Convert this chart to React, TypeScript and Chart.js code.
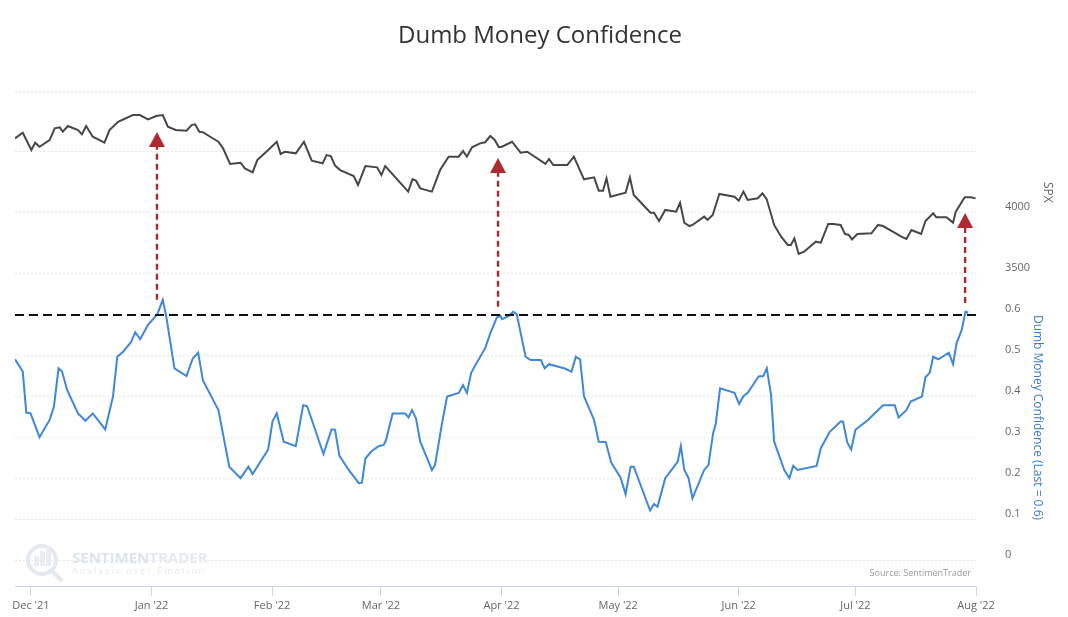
import React, { useEffect, useRef } from "react";
import { Chart, registerables } from "chart.js";

Chart.register(...registerables);

// ---- x axis: days since 1 Dec 2021 ----
const monthDays = [0, 31, 62, 90, 121, 151, 182, 212, 243];
const monthLabels = ["Dec '21", "Jan '22", "Feb '22", "Mar '22", "Apr '22", "May '22", "Jun '22", "Jul '22", "Aug '22"];

// ---- S&P 500 (top panel) ----
const spxDays = [
  -4.1, -2.1, 0.1, 1.1, 2.2, 4.8, 6.1, 7.4, 8.2, 9.5,
  12.1, 13.1, 14.2, 15.9, 18.9, 20.2, 22.4, 26.2, 28, 30.1,
  32.2, 33.9, 35.2, 37.2, 40, 41.3, 42.2, 43.3, 44.3, 46.5,
  48.2, 49.4, 51.2, 53.9, 55, 57, 58.2, 61, 63.2, 64.2,
  65.3, 68.1, 70.2, 72.2, 75, 76, 77.1, 78.2, 79.5, 83,
  84.1, 86, 89, 90.1, 91.1, 97, 98.1, 99, 100.1, 103.1,
  105.2, 107.4, 110, 111.1, 112.1, 113.4, 115.5, 116.8, 118.1, 119.2,
  120.3, 121.1, 123.7, 125.9, 127.6, 132.3, 133.2, 134.3, 137.9, 139.6,
  142.2, 144.8, 146, 147.1, 148, 149, 152.9, 154, 155, 159.3,
  160.2, 161.5, 163.1, 165.9, 166.9, 168, 169.3, 170.1, 173.1, 174,
  175.3, 177, 180.9, 182, 183.2, 184.3, 186.9, 188.1, 189.2, 191.1,
  192.9, 194.6, 195.4, 196.3, 197.4, 198.8, 201.8, 203.1, 205, 206.3,
  208.2, 209.3, 210.3, 211.1, 212.5, 216.1, 217.8, 219.1, 221.6, 223.8,
  225.1, 226.4, 228.9, 230, 232, 232.8, 235.4, 237.1, 237.8, 240.1,
  241.7, 242.9,
];
const spxValues = [
  4612, 4658, 4516, 4576, 4543, 4598, 4694, 4702, 4666, 4713,
  4680, 4645, 4713, 4625, 4576, 4680, 4748, 4803, 4803, 4768,
  4795, 4803, 4707, 4680, 4675, 4721, 4727, 4666, 4661, 4617,
  4584, 4530, 4402, 4412, 4366, 4333, 4434, 4516, 4584, 4484,
  4502, 4489, 4584, 4429, 4407, 4475, 4467, 4389, 4352, 4303,
  4230, 4385, 4374, 4311, 4385, 4175, 4276, 4265, 4202, 4175,
  4352, 4462, 4462, 4508, 4462, 4538, 4571, 4580, 4631, 4601,
  4540, 4543, 4584, 4494, 4502, 4402, 4443, 4393, 4393, 4462,
  4276, 4292, 4183, 4183, 4284, 4134, 4166, 4292, 4148, 4003,
  4003, 3935, 4025, 4011, 4084, 3920, 3893, 3902, 3970, 3943,
  3984, 4156, 4134, 4101, 4175, 4107, 4121, 4161, 4112, 3902,
  3806, 3738, 3738, 3792, 3664, 3683, 3765, 3757, 3910, 3910,
  3902, 3828, 3820, 3784, 3828, 3834, 3902, 3893, 3847, 3806,
  3787, 3861, 3828, 3934, 3997, 3965, 3965, 3921, 4011, 4129,
  4129, 4120,
];

// ---- Dumb Money Confidence (bottom panel) ----
const dmcDays = [
  -4.1, -2.1, -1.2, -0.1, 2.2, 4.8, 5.9, 7.1, 8, 9.3,
  12.1, 14, 15.9, 19.1, 21.1, 22.2, 23.7, 25.8, 26.8, 28.1,
  30.1, 32.5, 33.9, 34.8, 36.9, 40, 41.6, 43, 44.2, 48.2,
  51, 53.9, 55.9, 57, 61, 62.1, 63.2, 65, 68.1, 70,
  71, 75.2, 77.3, 78.2, 79.3, 81.7, 84.3, 85.1, 86, 87.5,
  89.4, 90.7, 91.3, 93, 96.2, 97.1, 98, 99, 100.1, 103.1,
  103.9, 105.7, 107, 110, 111.1, 112.1, 113.2, 114.3, 116.8, 118.1,
  119.8, 120.7, 121.1, 122.9, 124, 124.9, 127.2, 128.5, 131.1, 132.1,
  133.2, 137.1, 139, 140.1, 141.2, 142.2, 144.8, 146, 147.8, 149.2,
  151.6, 152.9, 154.2, 155, 159.2, 160.2, 161.1, 163.1, 165, 166.3,
  167.1, 168, 169.1, 170.1, 173.1, 174.2, 175.4, 176.1, 177.2, 180.9,
  182.1, 183.2, 184.3, 187.1, 188.3, 189.2, 190.3, 191.1, 193.7, 195,
  196, 197.1, 202, 203.1, 205.4, 208.2, 208.8, 209.9, 210.9, 212,
  215.2, 219.1, 222.1, 223.1, 225.1, 226.2, 229.1, 230, 231.1, 232,
  233.3, 236, 237.1, 238, 239.3, 240.3, 241,
];
const dmcValues = [
  0.492, 0.462, 0.362, 0.36, 0.302, 0.344, 0.376, 0.47, 0.462, 0.417,
  0.36, 0.342, 0.36, 0.321, 0.401, 0.498, 0.51, 0.535, 0.558, 0.541,
  0.576, 0.602, 0.637, 0.596, 0.47, 0.451, 0.494, 0.508, 0.441, 0.368,
  0.23, 0.202, 0.23, 0.212, 0.272, 0.34, 0.36, 0.291, 0.28, 0.38,
  0.378, 0.261, 0.321, 0.32, 0.257, 0.222, 0.19, 0.191, 0.25, 0.267,
  0.28, 0.283, 0.295, 0.36, 0.36, 0.35, 0.368, 0.348, 0.291, 0.222,
  0.234, 0.336, 0.401, 0.41, 0.429, 0.41, 0.459, 0.478, 0.519, 0.555,
  0.594, 0.598, 0.59, 0.598, 0.608, 0.602, 0.498, 0.49, 0.49, 0.47,
  0.48, 0.47, 0.462, 0.498, 0.492, 0.402, 0.344, 0.291, 0.29, 0.24,
  0.204, 0.163, 0.23, 0.23, 0.123, 0.139, 0.132, 0.202, 0.226, 0.242,
  0.28, 0.222, 0.202, 0.153, 0.222, 0.234, 0.311, 0.336, 0.421, 0.41,
  0.383, 0.402, 0.41, 0.45, 0.451, 0.47, 0.405, 0.291, 0.222, 0.202,
  0.232, 0.222, 0.232, 0.275, 0.315, 0.34, 0.34, 0.289, 0.272, 0.32,
  0.344, 0.38, 0.38, 0.35, 0.368, 0.389, 0.401, 0.448, 0.459, 0.498,
  0.492, 0.508, 0.48, 0.531, 0.563, 0.608, 0.606,
];

// ---- axis ticks ----
const spxGridTicks = [3500, 4000, 4500, 5000];
const spxLabelTicks = [3500, 4000];
const dmcTicks = [0, 0.1, 0.2, 0.3, 0.4, 0.5, 0.6];

// ---- annotations ----
const refLevel = 0.6;
const arrowDays = [32.4, 120.1, 240.2];
const arrowFromDmc = [0.637, 0.62, 0.629];
const arrowToSpx = [4664, 4451, 4000];

const FONT = '"Open Sans", "Noto Sans", sans-serif';

const overlayPlugin = {
  id: "overlay",
  afterLayout(chart: any) {
    // both right-hand axes share the same label column
    const a = chart.scales.ySpx;
    const b = chart.scales.yDmc;
    a.right = b.right;
  },
  beforeDatasetsDraw(chart: any) {
    const { ctx } = chart;
    ctx.save();
    // faint watermark logo
    ctx.strokeStyle = "#e4e9ef";
    ctx.lineWidth = 4;
    ctx.beginPath();
    ctx.arc(42, 560, 14, 0, Math.PI * 2);
    ctx.stroke();
    ctx.beginPath();
    ctx.moveTo(52, 571);
    ctx.lineTo(62, 581);
    ctx.stroke();
    ctx.fillStyle = "#e9edf2";
    [[34, 556, 5, 10], [40, 551, 5, 15], [46, 546, 5, 20]].forEach((r) => ctx.fillRect(r[0], r[1], r[2], r[3]));
    ctx.textAlign = "left";
    ctx.textBaseline = "alphabetic";
    ctx.font = `bold 15px ${FONT}`;
    ctx.fillStyle = "#dce4ec";
    ctx.fillText("SENTIMEN", 72, 563);
    const w = ctx.measureText("SENTIMEN").width;
    ctx.fillStyle = "#e6eaef";
    ctx.fillText("TRADER", 72 + w, 563);
    ctx.font = `9px ${FONT}`;
    (ctx as any).letterSpacing = "2px";
    ctx.fillStyle = "#e6eaef";
    ctx.fillText("Analysis over Emotion", 72, 574);
    (ctx as any).letterSpacing = "0px";
    ctx.restore();
  },
  afterDatasetsDraw(chart: any) {
    const { ctx, chartArea: ca, scales } = chart;
    const xs = scales.x;
    const ys = scales.ySpx;
    const yd = scales.yDmc;
    ctx.save();
    // reference dashed line
    const yy = yd.getPixelForValue(refLevel);
    ctx.strokeStyle = "#111111";
    ctx.lineWidth = 2.2;
    ctx.setLineDash([9, 5]);
    ctx.beginPath();
    ctx.moveTo(ca.left, yy);
    ctx.lineTo(ca.right + 4, yy);
    ctx.stroke();
    // arrows
    arrowDays.forEach((d, i) => {
      const px = xs.getPixelForValue(d);
      const yb = yd.getPixelForValue(arrowFromDmc[i]);
      const yt = ys.getPixelForValue(arrowToSpx[i]);
      const headH = 15;
      const headW = 8;
      ctx.strokeStyle = "#ad2a31";
      ctx.lineWidth = 2.4;
      ctx.setLineDash([6, 4]);
      ctx.beginPath();
      ctx.moveTo(px, yb);
      ctx.lineTo(px, yt + headH);
      ctx.stroke();
      ctx.setLineDash([]);
      ctx.fillStyle = "#ad2a31";
      ctx.beginPath();
      ctx.moveTo(px, yt);
      ctx.lineTo(px - headW, yt + headH);
      ctx.lineTo(px + headW, yt + headH);
      ctx.closePath();
      ctx.fill();
    });
    ctx.restore();
  },
  afterDraw(chart: any) {
    const { ctx, chartArea: ca, scales } = chart;
    ctx.save();
    // title
    ctx.fillStyle = "#333333";
    ctx.font = `24px ${FONT}`;
    ctx.textAlign = "center";
    ctx.textBaseline = "middle";
    ctx.fillText("Dumb Money Confidence", 540, 36);
    // axis titles
    const ySpxTitle = scales.ySpx.getPixelForValue(4170);
    const yDmcTitle = (scales.yDmc.getPixelForValue(0.6) + scales.yDmc.getPixelForValue(0.1)) / 2;
    ctx.font = `12px ${FONT}`;
    ctx.save();
    ctx.translate(ca.right + 71, ySpxTitle);
    ctx.rotate(Math.PI / 2);
    ctx.fillStyle = "#666666";
    ctx.fillText("SPX", 0, 0);
    ctx.restore();
    ctx.save();
    ctx.translate(ca.right + 61, yDmcTitle);
    ctx.rotate(Math.PI / 2);
    ctx.fillStyle = "#3d7cc9";
    ctx.fillText("Dumb Money Confidence (Last = 0.6)", 0, 0);
    ctx.restore();
    // source credit
    ctx.font = `9px ${FONT}`;
    ctx.fillStyle = "#9a9a9a";
    ctx.textAlign = "right";
    ctx.fillText("Source: SentimenTrader", ca.right - 5, 573);
    ctx.restore();
  },
};

export default function App() {
  const canvasRef = useRef<HTMLCanvasElement | null>(null);

  useEffect(() => {
    if (!canvasRef.current) return;
    const tickFont = { family: FONT, size: 11 };
    const chart = new Chart(canvasRef.current, {
      type: "line",
      data: {
        datasets: [
          {
            label: "SPX",
            data: spxDays.map((d, i) => ({ x: d, y: spxValues[i] })),
            yAxisID: "ySpx",
            borderColor: "#474747",
            borderWidth: 2,
            pointRadius: 0,
            tension: 0,
          },
          {
            label: "Dumb Money Confidence",
            data: dmcDays.map((d, i) => ({ x: d, y: dmcValues[i] })),
            yAxisID: "yDmc",
            borderColor: "#3f87d8",
            borderWidth: 2,
            pointRadius: 0,
            tension: 0,
          },
        ],
      },
      options: {
        responsive: false,
        animation: false,
        events: [],
        layout: { padding: { top: 91, left: 15, right: 0, bottom: 0 } },
        plugins: { legend: { display: false }, tooltip: { enabled: false }, title: { display: false } },
        scales: {
          x: {
            type: "linear",
            min: -4.1,
            max: 243,
            afterBuildTicks: (s: any) => {
              s.ticks = monthDays.map((v) => ({ value: v }));
            },
            afterFit: (s: any) => {
              s.height = 31;
            },
            ticks: {
              autoSkip: false,
              maxRotation: 0,
              padding: 3,
              color: "#666666",
              font: tickFont,
              callback: (_v: any, i: number) => monthLabels[i],
            },
            grid: { drawOnChartArea: false, drawTicks: true, tickLength: 10, tickColor: "#ccd6eb", tickWidth: 1 },
            border: { display: true, color: "#ccd6eb", width: 1 },
          },
          ySpx: {
            type: "linear",
            position: "right",
            weight: 0,
            min: 942.6,
            max: 5000,
            afterBuildTicks: (s: any) => {
              s.ticks = spxGridTicks.map((v) => ({ value: v }));
            },
            afterFit: (s: any) => {
              s.width = 0;
              s.paddingTop = 0;
              s.paddingBottom = 0;
            },
            ticks: {
              autoSkip: false,
              padding: 29,
              color: "#666666",
              font: tickFont,
              callback: (v: any) => (spxLabelTicks.includes(Number(v)) ? [String(v), ""] : ""),
            },
            grid: { color: "#e8e8e8", drawTicks: false, lineWidth: 1 },
            border: { display: false, dash: [2, 2] },
          },
          yDmc: {
            type: "linear",
            position: "right",
            weight: 1,
            min: -0.061,
            max: 1.1463,
            afterBuildTicks: (s: any) => {
              s.ticks = dmcTicks.map((v) => ({ value: v }));
            },
            afterFit: (s: any) => {
              s.width = 92;
              s.paddingTop = 0;
              s.paddingBottom = 0;
            },
            ticks: {
              autoSkip: false,
              padding: 29,
              color: "#666666",
              font: tickFont,
              callback: (v: any) => [String(Number(Number(v).toFixed(1))), ""],
            },
            grid: { color: "#e8e8e8", drawTicks: false, lineWidth: 1 },
            border: { display: false, dash: [2, 2] },
          },
        },
      },
      plugins: [overlayPlugin],
    } as any);
    return () => chart.destroy();
  }, []);

  return (
    <div style={{ position: "absolute", left: 0, top: 0, width: 1068, height: 617, background: "#ffffff" }}>
      <canvas ref={canvasRef} width={1068} height={617} style={{ width: 1068, height: 617, display: "block" }} />
    </div>
  );
}
